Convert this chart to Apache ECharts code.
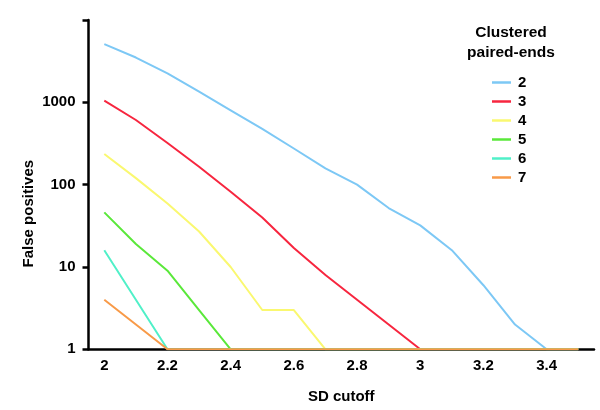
<!DOCTYPE html>
<html>
<head>
<meta charset="utf-8">
<script src="https://cdn.jsdelivr.net/npm/echarts@6/dist/echarts.min.js"></script>
<style>html,body{margin:0;padding:0;background:#fff}#c{width:600px;height:410px}</style>
</head>
<body>
<div id="c"></div>
<script>
var categories = [2, 2.1, 2.2, 2.3, 2.4, 2.5, 2.6, 2.7, 2.8, 2.9, 3, 3.1, 3.2, 3.3, 3.4, 3.5];
var seriesNames = ['2', '3', '4', '5', '6', '7'];
var s2 = [5100, 3500, 2250, 1350, 800, 475, 275, 158, 100, 52, 32, 16, 6, 2, 1, 1];
var s3 = [1050, 610, 320, 165, 82, 40, 17, 8, 4, 2, 1, 1, 1, 1, 1, 1];
var s4 = [236, 120, 59, 27, 10, 3, 3, 1, 1, 1, 1, 1, 1, 1, 1, 1];
var s5 = [46, 19, 9, 3, 1, 1, 1, 1, 1, 1, 1, 1, 1, 1, 1, 1];
var s6 = [16, 4, 1, 1, 1, 1, 1, 1, 1, 1, 1, 1, 1, 1, 1, 1];
var s7 = [4, 2, 1, 1, 1, 1, 1, 1, 1, 1, 1, 1, 1, 1, 1, 1];
var colors = ['#7DC8F5', '#F7263F', '#FAF870', '#5AE83A', '#50F0C8', '#F89A48'];
var allData = [s2, s3, s4, s5, s6, s7];

var FONT = '"Liberation Sans", Arial, Helvetica, sans-serif';
var chart = echarts.init(document.getElementById('c'), null, {renderer: 'canvas'});
chart.setOption({
  animation: false,
  color: colors,
  title: {
    text: 'Clustered\npaired-ends',
    left: 506, top: 18, textAlign: 'center',
    textStyle: {fontFamily: FONT, fontWeight: 'bold', fontSize: 15.5, lineHeight: 20, color: '#000'}
  },
  legend: {
    orient: 'vertical',
    left: 487, top: 68,
    itemWidth: 19, itemHeight: 2.5, itemGap: 0,
    icon: 'rect',
    data: seriesNames,
    textStyle: {fontFamily: FONT, fontWeight: 'bold', fontSize: 15, lineHeight: 19, color: '#000', padding: [0, 0, 0, 2]}
  },
  grid: {left: 88.5, right: 6, top: 20, bottom: 60.7, containLabel: false},
  xAxis: {
    type: 'category',
    data: categories.map(String),
    boundaryGap: true,
    name: 'SD cutoff', nameLocation: 'middle', nameGap: 40,
    nameTextStyle: {fontFamily: FONT, fontWeight: 'bold', fontSize: 15, color: '#000'},
    axisLine: {lineStyle: {color: '#000', width: 2.5}},
    axisTick: {interval: 0, length: 6, lineStyle: {color: '#000', width: 2.5}},
    axisLabel: {interval: 1, margin: 9, fontFamily: FONT, fontWeight: 'bold', fontSize: 15, color: '#000'},
    splitLine: {show: false}
  },
  yAxis: {
    type: 'log', logBase: 10, min: 1, max: 10000,
    name: 'False positives', nameLocation: 'middle', nameGap: 52, nameRotate: 90,
    nameMoveOverlap: false,
    nameTextStyle: {fontFamily: FONT, fontWeight: 'bold', fontSize: 15, color: '#000', padding: [0, 58, 0, 0]},
    axisLine: {show: true, lineStyle: {color: '#000', width: 2.5}},
    axisTick: {show: true, length: 6, lineStyle: {color: '#000', width: 2.5}},
    axisLabel: {
      margin: 13, fontFamily: FONT, fontWeight: 'bold', fontSize: 15, color: '#000',
      formatter: function (v) { return v >= 10000 ? '' : String(v); }
    },
    splitLine: {show: false}
  },
  series: seriesNames.map(function (n, i) {
    return {
      name: n, type: 'line', data: allData[i],
      showSymbol: false, symbol: 'none',
      lineStyle: {width: 2, color: colors[i]},
      itemStyle: {color: colors[i]},
      z: 2 + i
    };
  })
});
</script>
</body>
</html>
